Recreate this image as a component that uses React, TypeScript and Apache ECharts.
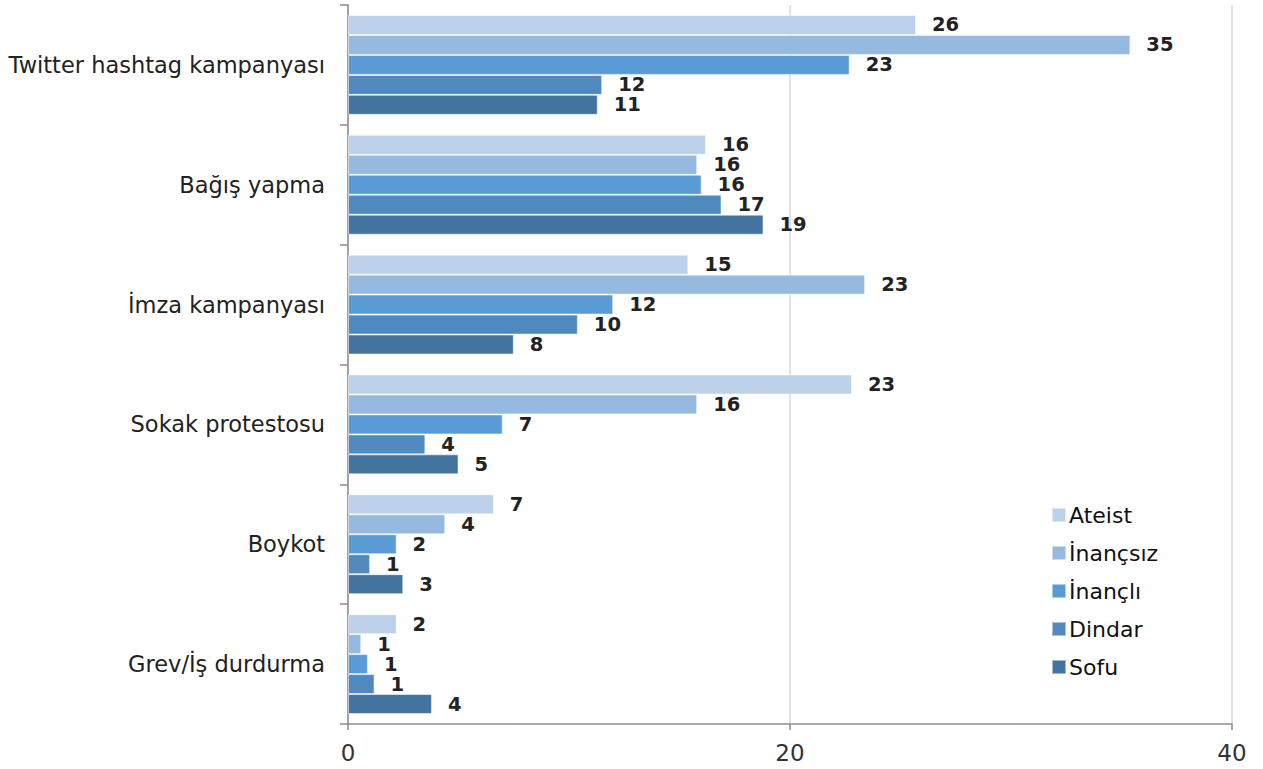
import React, { useEffect, useRef } from "react";
import * as echarts from "echarts";

const categories = [
  "Twitter hashtag kampanyası",
  "Bağış yapma",
  "İmza kampanyası",
  "Sokak protestosu",
  "Boykot",
  "Grev/İş durdurma",
];
const seriesNames = ["Ateist", "İnançsız", "İnançlı", "Dindar", "Sofu"];
const ateist = [25.7, 16.2, 15.4, 22.8, 6.6, 2.2];
const inancsiz = [35.4, 15.8, 23.4, 15.8, 4.4, 0.6];
const inancli = [22.7, 16.0, 12.0, 7.0, 2.2, 0.9];
const dindar = [11.5, 16.9, 10.4, 3.5, 1.0, 1.2];
const sofu = [11.3, 18.8, 7.5, 5.0, 2.5, 3.8];
const seriesValues = [ateist, inancsiz, inancli, dindar, sofu];
const colors = ["#BDD1EA", "#96B9E0", "#5A9BD5", "#4F89BD", "#43739F"];
const xTicks = [0, 20, 40];

export default function App() {
  const ref = useRef<HTMLDivElement>(null);
  useEffect(() => {
    if (!ref.current) return;
    const chart = echarts.init(ref.current, undefined, { renderer: "svg" });
    chart.setOption({
      animation: false,
      textStyle: { fontFamily: "DejaVu Sans, sans-serif" },
      grid: { left: 348, right: 31, top: 5, bottom: 45, containLabel: false },
      legend: {
        orient: "vertical",
        left: 1046,
        top: 499,
        itemWidth: 14,
        itemHeight: 14,
        itemGap: 16,
        icon: "rect",
        data: seriesNames,
        textStyle: { fontSize: 22, color: "#111", padding: [0, 0, 0, -2] },
      },
      xAxis: {
        type: "value",
        min: xTicks[0],
        max: xTicks[xTicks.length - 1],
        interval: 20,
        axisLine: { show: true, lineStyle: { color: "#8c8c8c", width: 1.5 } },
        axisTick: { show: true, length: 6, lineStyle: { color: "#8c8c8c", width: 1.5 } },
        axisLabel: { fontSize: 23, color: "#333", margin: 17 },
        splitLine: { show: true, lineStyle: { color: "#d9d9d9", width: 1.5 } },
      },
      yAxis: {
        type: "category",
        data: categories,
        inverse: true,
        axisLine: { show: true, lineStyle: { color: "#8c8c8c", width: 1.5 } },
        axisTick: { show: true, length: 8, lineStyle: { color: "#8c8c8c", width: 1.5 } },
        axisLabel: { fontSize: 22.5, color: "#222", margin: 23 },
      },
      series: seriesNames.map((name, i) => ({
        name,
        type: "bar",
        data: seriesValues[i],
        barGap: "0%",
        barCategoryGap: "16.7%",
        itemStyle: {
          color: colors[i],
          borderColor: "rgba(255,255,255,0.5)",
          borderWidth: 1,
        },
        label: {
          show: true,
          position: "right",
          distance: 16,
          formatter: (p: any) => String(Math.round(p.value)),
          fontFamily: "DejaVu Sans, sans-serif",
          fontWeight: "bold",
          fontSize: 19.5,
          lineHeight: 15,
          color: "#222",
        },
      })),
    });
    return () => chart.dispose();
  }, []);
  return (
    <div
      ref={ref}
      style={{ position: "fixed", left: 0, top: 0, width: 1263, height: 769, background: "#fff" }}
    />
  );
}
